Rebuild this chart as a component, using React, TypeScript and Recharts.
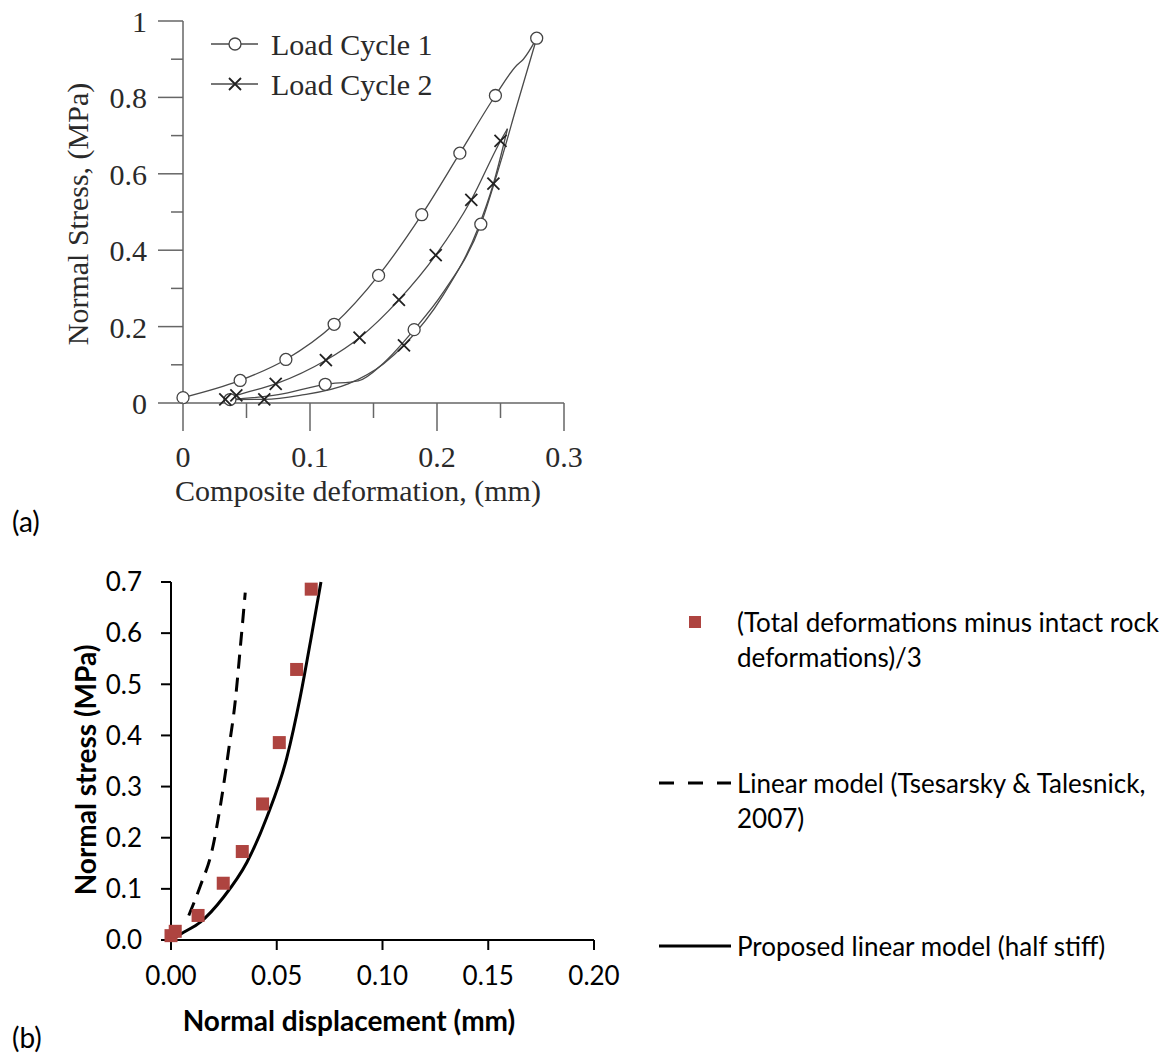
import { ComposedChart, Line, Scatter, XAxis, YAxis, Legend } from 'recharts'

const serif = '"Liberation Serif", "Times New Roman", serif'
const sans = 'Lato, "Noto Sans", sans-serif'

// (a) composite deformation (mm) vs normal stress (MPa)
const cycle1LoadX = [0, 0.045, 0.081, 0.119, 0.154, 0.188, 0.218, 0.246, 0.263, 0.268, 0.2785]
const cycle1LoadY = [0.014, 0.059, 0.114, 0.206, 0.334, 0.493, 0.654, 0.805, 0.885, 0.9, 0.955]
const cycle1UnloadX = [0.037, 0.075, 0.112, 0.138, 0.158, 0.182, 0.205, 0.2345, 0.25, 0.263, 0.2785]
const cycle1UnloadY = [0.009, 0.022, 0.049, 0.058, 0.105, 0.192, 0.29, 0.468, 0.63, 0.78, 0.955]
const cycle1MarkX = [0, 0.045, 0.081, 0.119, 0.154, 0.188, 0.218, 0.246, 0.2785, 0.2345, 0.182, 0.112, 0.037]
const cycle1MarkY = [0.014, 0.059, 0.114, 0.206, 0.334, 0.493, 0.654, 0.805, 0.955, 0.468, 0.192, 0.049, 0.009]

const cycle2LoadX = [0.0333, 0.042, 0.073, 0.1125, 0.139, 0.17, 0.199, 0.227, 0.25, 0.2555]
const cycle2LoadY = [0.0096, 0.02, 0.05, 0.112, 0.171, 0.27, 0.387, 0.532, 0.686, 0.718]
const cycle2UnloadX = [0.033, 0.064, 0.092, 0.13, 0.158, 0.174, 0.205, 0.232, 0.2444, 0.2555]
const cycle2UnloadY = [0.009, 0.0096, 0.02, 0.05, 0.103, 0.151, 0.283, 0.455, 0.574, 0.718]
const cycle2MarkX = [0.0333, 0.042, 0.073, 0.1125, 0.139, 0.17, 0.199, 0.227, 0.25, 0.2444, 0.174, 0.064]
const cycle2MarkY = [0.0096, 0.02, 0.05, 0.112, 0.171, 0.27, 0.387, 0.532, 0.686, 0.574, 0.151, 0.0096]

const aTicksX = [0, 0.05, 0.1, 0.15, 0.2, 0.25, 0.3]
const aTicksY = [0, 0.1, 0.2, 0.3, 0.4, 0.5, 0.6, 0.7, 0.8, 0.9, 1]

// (b) normal displacement (mm) vs normal stress (MPa)
const measuredX = [0, 0.002, 0.0128, 0.0247, 0.0337, 0.0433, 0.0512, 0.0594, 0.0663]
const measuredY = [0.0085, 0.017, 0.048, 0.111, 0.173, 0.266, 0.386, 0.529, 0.686]
const tsesarskyX = [0.0084, 0.0139, 0.0194, 0.0241, 0.0272, 0.0304, 0.0328, 0.0351]
const tsesarskyY = [0.048, 0.106, 0.175, 0.282, 0.37, 0.468, 0.573, 0.679]
const proposedX = [0, 0.006, 0.0139, 0.0249, 0.0359, 0.0453, 0.0548, 0.0611, 0.0666, 0.0709]
const proposedY = [0, 0.015, 0.035, 0.084, 0.152, 0.24, 0.357, 0.475, 0.599, 0.7]

const bTicksX = [0, 0.05, 0.1, 0.15, 0.2]
const bTicksY = [0, 0.1, 0.2, 0.3, 0.4, 0.5, 0.6, 0.7]

const zip = (xs: number[], ys: number[]) => xs.map((x, i) => ({ x, y: ys[i] }))

const axisGrey = '#666'
const lineGrey = '#4a4a4a'
const textGrey = '#2a2a2a'
const brick = '#AE4440'

function OpenCircle(p: any) {
  return <circle cx={p.cx} cy={p.cy} r={6} fill="#fff" stroke="#444" strokeWidth={1.3} />
}

function Cross(p: any) {
  const s = 6
  return (
    <path
      d={`M${p.cx - s},${p.cy - s}L${p.cx + s},${p.cy + s}M${p.cx - s},${p.cy + s}L${p.cx + s},${p.cy - s}`}
      stroke="#222"
      strokeWidth={1.8}
    />
  )
}

function Square(p: any) {
  return <rect x={p.cx - 6.5} y={p.cy - 6.5} width={13} height={13} fill={brick} />
}

function ATickX({ x, y, payload }: any) {
  const major = Math.round(payload.value * 100) % 10 === 0
  return (
    <g>
      <line x1={x} x2={x} y1={y} y2={y + (major ? 28 : 15)} stroke={axisGrey} strokeWidth={1.5} />
      {major && (
        <text x={x} y={y + 64} textAnchor="middle" fontFamily={serif} fontSize={30} fill={textGrey}>
          {payload.value}
        </text>
      )}
    </g>
  )
}

function ATickY({ x, y, payload }: any) {
  const major = Math.round(payload.value * 10) % 2 === 0
  return (
    <g>
      <line x1={x - (major ? 25 : 12)} x2={x} y1={y} y2={y} stroke={axisGrey} strokeWidth={1.5} />
      {major && (
        <text x={x - 36} y={y + 11} textAnchor="end" fontFamily={serif} fontSize={30} fill={textGrey}>
          {payload.value}
        </text>
      )}
    </g>
  )
}

function Title({ tx, ty, rot, text, font, size, weight, color }: any) {
  return (
    <text
      x={tx}
      y={ty}
      transform={rot ? `rotate(-90 ${tx} ${ty})` : undefined}
      textAnchor="middle"
      dominantBaseline="central"
      fontFamily={font}
      fontSize={size}
      fontWeight={weight}
      fill={color}
    >
      {text}
    </text>
  )
}

function LegendA() {
  const rows = [
    { label: 'Load Cycle 1', mark: 'circle' },
    { label: 'Load Cycle 2', mark: 'cross' },
  ]
  return (
    <svg width={260} height={80}>
      {rows.map((r, i) => {
        const y = 19 + i * 40
        return (
          <g key={r.label}>
            <line x1={6} x2={53} y1={y} y2={y} stroke={lineGrey} strokeWidth={1.3} />
            {r.mark === 'circle' ? <OpenCircle cx={30} cy={y} /> : <Cross cx={30} cy={y} />}
            <text x={66} y={y} dominantBaseline="central" fontFamily={serif} fontSize={30} fill={textGrey}>
              {r.label}
            </text>
          </g>
        )
      })}
    </svg>
  )
}

function LegendB() {
  const txt = { fontFamily: sans, fontSize: 26, fill: '#000', dominantBaseline: 'central' as const }
  return (
    <svg width={523} height={380}>
      <rect x={39} y={16} width={12} height={12} fill={brick} />
      <text x={87} y={22} {...txt}>(Total deformations minus intact rock</text>
      <text x={87} y={57} {...txt}>deformations)/3</text>
      <line x1={9} x2={81} y1={183} y2={183} stroke="#000" strokeWidth={3} strokeDasharray="15 14" />
      <text x={87} y={183} {...txt}>Linear model (Tsesarsky &amp; Talesnick,</text>
      <text x={87} y={218} {...txt}>2007)</text>
      <line x1={9} x2={81} y1={346} y2={346} stroke="#000" strokeWidth={3} />
      <text x={87} y={346} {...txt}>Proposed linear model (half stiff)</text>
    </svg>
  )
}

function ChartA() {
  return (
    <ComposedChart width={620} height={520} margin={{ top: 21, right: 56, bottom: 0, left: 0 }}>
      <XAxis
        type="number"
        dataKey="x"
        domain={[0, 0.3]}
        ticks={aTicksX}
        interval={0}
        height={117}
        tickSize={0}
        tickMargin={0}
        tickLine={false}
        tick={<ATickX />}
        axisLine={{ stroke: axisGrey, strokeWidth: 1.5 }}
        label={<Title tx={358} ty={490} text="Composite deformation, (mm)" font={serif} size={30} color={textGrey} />}
      />
      <YAxis
        type="number"
        dataKey="y"
        domain={[0, 1]}
        ticks={aTicksY}
        interval={0}
        width={183}
        tickSize={0}
        tickMargin={0}
        tickLine={false}
        tick={<ATickY />}
        axisLine={{ stroke: axisGrey, strokeWidth: 1.5 }}
        label={<Title tx={77} ty={214} rot text="Normal Stress, (MPa)" font={serif} size={30} color={textGrey} />}
      />
      <Legend
        layout="vertical"
        align="center"
        verticalAlign="middle"
        wrapperStyle={{ left: 205, top: 25, width: 260, height: 80 }}
        content={() => <LegendA />}
      />
      <Line data={zip(cycle1LoadX, cycle1LoadY)} dataKey="y" type="monotone" stroke={lineGrey} strokeWidth={1.3} dot={false} isAnimationActive={false} />
      <Line data={zip(cycle1UnloadX, cycle1UnloadY)} dataKey="y" type="monotone" stroke={lineGrey} strokeWidth={1.3} dot={false} isAnimationActive={false} />
      <Line data={zip(cycle2LoadX, cycle2LoadY)} dataKey="y" type="monotone" stroke={lineGrey} strokeWidth={1.3} dot={false} isAnimationActive={false} />
      <Line data={zip(cycle2UnloadX, cycle2UnloadY)} dataKey="y" type="monotone" stroke={lineGrey} strokeWidth={1.3} dot={false} isAnimationActive={false} />
      <Scatter data={zip(cycle1MarkX, cycle1MarkY)} dataKey="y" shape={OpenCircle} isAnimationActive={false} />
      <Scatter data={zip(cycle2MarkX, cycle2MarkY)} dataKey="y" shape={Cross} isAnimationActive={false} />
    </ComposedChart>
  )
}

function ChartB() {
  const tickStyle = { fill: '#000', fontSize: 26, fontFamily: sans }
  return (
    <ComposedChart width={1173} height={514} margin={{ top: 42, right: 579, bottom: 0, left: 0 }}>
      <XAxis
        type="number"
        dataKey="x"
        domain={[0, 0.2]}
        ticks={bTicksX}
        interval={0}
        height={114}
        tickSize={10}
        tickMargin={17}
        tickFormatter={(v: number) => v.toFixed(2)}
        tick={tickStyle}
        tickLine={{ stroke: '#000', strokeWidth: 2 }}
        axisLine={{ stroke: '#000', strokeWidth: 2 }}
        label={<Title tx={349} ty={480} text="Normal displacement (mm)" font={sans} size={28} weight="bold" color="#000" />}
      />
      <YAxis
        type="number"
        dataKey="y"
        domain={[0, 0.7]}
        ticks={bTicksY}
        interval={0}
        width={171}
        tickSize={10}
        tickMargin={19}
        tickFormatter={(v: number) => v.toFixed(1)}
        tick={tickStyle}
        tickLine={{ stroke: '#000', strokeWidth: 2 }}
        axisLine={{ stroke: '#000', strokeWidth: 2 }}
        label={<Title tx={85} ty={230} rot text="Normal stress (MPa)" font={sans} size={28} weight="bold" color="#000" />}
      />
      <Legend
        layout="vertical"
        align="center"
        verticalAlign="middle"
        wrapperStyle={{ left: 650, top: 60, width: 523, height: 380 }}
        content={() => <LegendB />}
      />
      <Line data={zip(tsesarskyX, tsesarskyY)} dataKey="y" type="monotone" stroke="#000" strokeWidth={3} strokeDasharray="14 9" dot={false} isAnimationActive={false} />
      <Line data={zip(proposedX, proposedY)} dataKey="y" type="monotone" stroke="#000" strokeWidth={3} dot={false} isAnimationActive={false} />
      <Scatter data={zip(measuredX, measuredY)} dataKey="y" shape={Square} isAnimationActive={false} />
    </ComposedChart>
  )
}

export default function App() {
  return (
    <div style={{ position: 'absolute', left: 0, top: 0, width: 1173, height: 1054, background: '#fff' }}>
      <div style={{ position: 'absolute', left: 0, top: 0 }}>
        <ChartA />
      </div>
      <div style={{ position: 'absolute', left: 0, top: 540 }}>
        <ChartB />
      </div>
      <div style={{ position: 'absolute', left: 12, top: 504, fontFamily: sans, fontSize: 28, lineHeight: '34px' }}>(a)</div>
      <div style={{ position: 'absolute', left: 12, top: 1020, fontFamily: sans, fontSize: 28, lineHeight: '34px' }}>(b)</div>
    </div>
  )
}
